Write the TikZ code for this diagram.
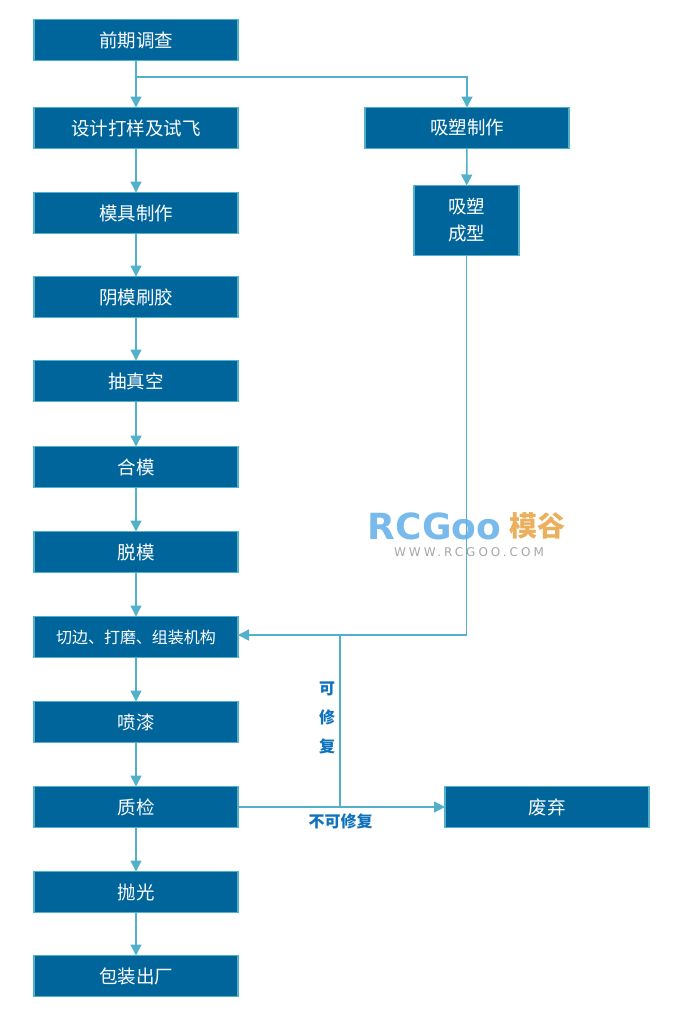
\documentclass[tikz,border=0pt]{standalone}
\usepackage{fontspec}
\usepackage{tikz}
\usetikzlibrary{arrows.meta}
\setmainfont{Noto Sans CJK SC}
\newfontfamily\logofont{DejaVu Sans}
\newfontfamily\logowidefont{DejaVu Sans}[LetterSpace=25]
\definecolor{StepBlue}{HTML}{00659B}
\definecolor{StepEdge}{HTML}{52B0CA}
\definecolor{NoteBlue}{HTML}{0F72BC}
\definecolor{LogoBlue}{HTML}{5FAEE8}
\definecolor{LogoOrange}{HTML}{EBB05E}
\definecolor{LogoGray}{HTML}{A6A6A6}

\begin{document}
\begin{tikzpicture}[x=1pt,y=-1pt]
  \tikzset{StepStyle/.style = {
    shape         = rectangle,
    draw          = StepEdge,
    fill          = StepBlue,
    line width    = 1.5pt,
    text          = white,
    font          = \fontsize{18.5}{22}\selectfont,
    inner sep     = 0pt,
    outer sep     = 0pt,
    minimum width = 204pt,
    minimum height = 41pt
    }
  }
  \tikzset{EdgeStyle/.style = {
    draw          = StepEdge,
    line width    = 1.6pt,
    -{Triangle[length=11pt,width=11pt]}
    }
  }
  \tikzset{PlainEdgeStyle/.style = {
    draw          = StepEdge,
    line width    = 1.6pt
    }
  }
  \tikzset{NoteStyle/.style = {
    text          = NoteBlue,
    font          = \fontsize{16}{18}\selectfont\bfseries,
    inner sep     = 0pt
    }
  }
  \useasboundingbox (0,0) rectangle (675,1012);

  % left column
  \node[StepStyle](A1) at (136, 40) {前期调查};
  \node[StepStyle](A2) at (136, 128) {设计打样及试飞};
  \node[StepStyle](A3) at (136, 213) {模具制作};
  \node[StepStyle](A4) at (136, 297) {阴模刷胶};
  \node[StepStyle](A5) at (136, 381) {抽真空};
  \node[StepStyle](A6) at (136, 467) {合模};
  \node[StepStyle](A7) at (136, 552) {脱模};
  \node[StepStyle, font=\fontsize{16}{18}\selectfont](A8) at (136, 637) {切边、打磨、组装机构};
  \node[StepStyle](A9) at (136, 722) {喷漆};
  \node[StepStyle](A10) at (136, 807) {质检};
  \node[StepStyle](A11) at (136, 892) {抛光};
  \node[StepStyle](A12) at (136, 976) {包装出厂};

  % right column
  \node[StepStyle](B1) at (467, 128) {吸塑制作};
  \node[StepStyle, minimum width=105pt, minimum height=70pt, align=center](B2) at (466.5, 220.5) {吸塑\\[5pt]成型};
  \node[StepStyle](B3) at (547, 807) {废弃};

  % junctions
  \coordinate (J1) at (136, 77);
  \coordinate (J2) at (467, 77);
  \coordinate (J3) at (466.5, 635);
  \coordinate (J4) at (340, 635);
  \coordinate (J5) at (340, 807);

  \draw[EdgeStyle](A1) -- (A2);
  \draw[EdgeStyle](A2) -- (A3);
  \draw[EdgeStyle](A3) -- (A4);
  \draw[EdgeStyle](A4) -- (A5);
  \draw[EdgeStyle](A5) -- (A6);
  \draw[EdgeStyle](A6) -- (A7);
  \draw[EdgeStyle](A7) -- (A8);
  \draw[EdgeStyle](A8) -- (A9);
  \draw[EdgeStyle](A9) -- (A10);
  \draw[EdgeStyle](A10) -- (A11);
  \draw[EdgeStyle](A11) -- (A12);
  \draw[EdgeStyle](J1) -- (J2) -- (B1);
  \draw[EdgeStyle](B1) -- (B2);
  \draw[EdgeStyle](B2.south) -- (J3) -- (A8.east |- J3);
  \draw[PlainEdgeStyle](J5) -- (J4);
  \draw[EdgeStyle](A10) -- (B3);

  \node[NoteStyle](N1) at (327, 689) {可};
  \node[NoteStyle](N2) at (327, 717.5) {修};
  \node[NoteStyle](N3) at (327, 746) {复};
  \node[NoteStyle](N4) at (340.5, 821) {不可修复};

  % site mark
  \node[text=LogoBlue, opacity=.85, inner sep=0pt, font=\logofont\fontsize{36}{38}\selectfont\bfseries](L1) at (434.5, 526) {RCGoo};
  \node[text=LogoOrange, inner sep=0pt, font=\fontsize{28}{30}\selectfont\bfseries](L2) at (537, 525.5) {模谷};
  \node[text=LogoGray, inner sep=0pt, font=\logowidefont\fontsize{12}{14}\selectfont](L3) at (469, 552) {WWW.RCGOO.COM};
\end{tikzpicture}
\end{document}
